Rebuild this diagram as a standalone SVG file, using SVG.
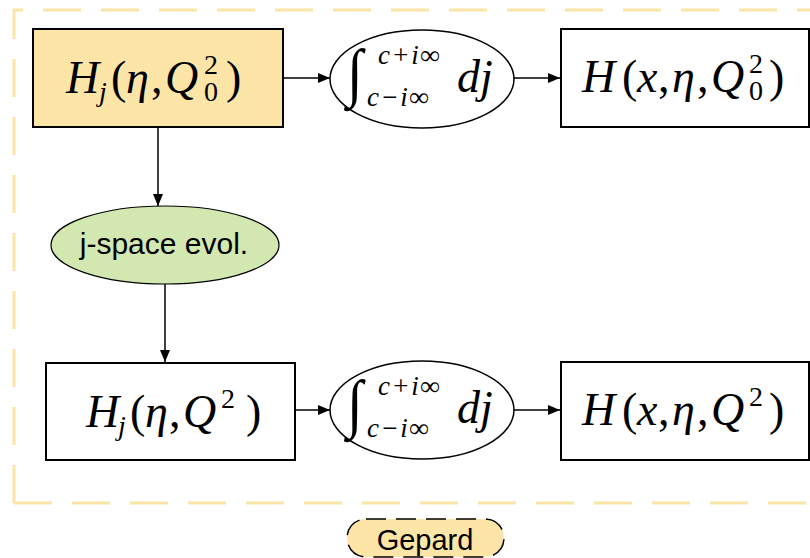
<svg xmlns="http://www.w3.org/2000/svg" width="810" height="558" viewBox="0 0 810 558">
<defs>
<marker id="arr" markerWidth="12" markerHeight="10" refX="12" refY="5" orient="auto" markerUnits="userSpaceOnUse">
<path d="M0,0 L12,5 L0,10 Z" fill="#000"/>
</marker>
<style>
.box{fill:#fff;stroke:#000;stroke-width:2}
.ybox{fill:#fce5a7;stroke:#000;stroke-width:2}
.ell{fill:#fff;stroke:#000;stroke-width:1.5}
.gell{fill:#d3e8b0;stroke:#000;stroke-width:1.2}
.m{font-family:"Liberation Serif","Times New Roman",serif;font-size:46px;fill:#000}
.i{font-style:italic}
.sc{font-size:28px}
.lim{font-family:"Liberation Serif","Times New Roman",serif;font-size:27px;font-style:italic;fill:#000;letter-spacing:1.5px}
.s{font-family:"Liberation Sans",Arial,sans-serif;fill:#000}
.con{stroke:#000;stroke-width:1.5;fill:none;marker-end:url(#arr)}
</style>
</defs>
<rect width="810" height="558" fill="#fff"/>
<path d="M14,503 L14,10 L830,10 M14,503 L830,503" fill="none" stroke="#fae4a6" stroke-width="3" stroke-dasharray="38,20"/>

<g id="connectors">
<line class="con" x1="284" y1="78" x2="330" y2="78"/>
<line class="con" x1="514" y1="78" x2="560" y2="78"/>
<line class="con" x1="158" y1="128" x2="158" y2="206"/>
<line class="con" x1="165" y1="284" x2="165" y2="362"/>
<line class="con" x1="296" y1="410" x2="330" y2="410"/>
<line class="con" x1="514" y1="410" x2="560" y2="410"/>
</g>

<g id="hj0">
<rect class="ybox" x="33" y="29" width="250" height="98"/>
<text class="m"><tspan class="i" x="66" y="93">H</tspan><tspan class="i sc" x="99" y="101">j</tspan><tspan x="111" y="93">(</tspan><tspan class="i" x="126" y="93">η</tspan><tspan x="151" y="93">,</tspan><tspan class="i" x="165" y="93">Q</tspan><tspan x="226" y="93">)</tspan></text>
<text class="m sc" x="204" y="74">2</text>
<text class="m sc" x="204" y="101">0</text>
</g>

<g id="int0">
<ellipse class="ell" cx="422" cy="79" rx="92" ry="49"/>
<text class="m i" font-size="58" transform="translate(347,94) scale(1.25,1.4)">∫</text>
<text class="lim" x="378" y="64">c+i∞</text>
<text class="lim" x="367" y="106">c−i∞</text>
<text class="m i" x="457" y="92" font-size="42">dj</text>
</g>

<g id="h0">
<rect class="box" x="561" y="29" width="248" height="98"/>
<text class="m"><tspan class="i" x="582" y="92">H</tspan><tspan x="622" y="92">(</tspan><tspan class="i" x="637" y="92">x</tspan><tspan x="658" y="92">,</tspan><tspan class="i" x="672" y="92">η</tspan><tspan x="697" y="92">,</tspan><tspan class="i" x="711" y="92">Q</tspan><tspan x="769" y="92">)</tspan></text>
<text class="m sc" x="749" y="73">2</text>
<text class="m sc" x="749" y="100">0</text>
</g>

<g id="evol">
<ellipse class="gell" cx="165" cy="245" rx="114" ry="39"/>
<text class="s" x="164" y="254" font-size="30" text-anchor="middle">j-space evol.</text>
</g>

<g id="hj">
<rect class="box" x="46" y="363" width="249" height="97"/>
<text class="m"><tspan class="i" x="86" y="427">H</tspan><tspan class="i sc" x="118" y="435">j</tspan><tspan x="130" y="427">(</tspan><tspan class="i" x="145" y="427">η</tspan><tspan x="169" y="427">,</tspan><tspan class="i" x="183" y="427">Q</tspan><tspan x="246" y="427">)</tspan></text>
<text class="m sc" x="221" y="408">2</text>
</g>

<g id="int1">
<ellipse class="ell" cx="422" cy="410" rx="92" ry="49"/>
<text class="m i" font-size="58" transform="translate(347,425) scale(1.25,1.4)">∫</text>
<text class="lim" x="378" y="395">c+i∞</text>
<text class="lim" x="367" y="437">c−i∞</text>
<text class="m i" x="457" y="423" font-size="42">dj</text>
</g>

<g id="h">
<rect class="box" x="561" y="362" width="248" height="98"/>
<text class="m"><tspan class="i" x="582" y="425">H</tspan><tspan x="622" y="425">(</tspan><tspan class="i" x="637" y="425">x</tspan><tspan x="658" y="425">,</tspan><tspan class="i" x="672" y="425">η</tspan><tspan x="697" y="425">,</tspan><tspan class="i" x="711" y="425">Q</tspan><tspan x="769" y="425">)</tspan></text>
<text class="m sc" x="749" y="406">2</text>
</g>

<g id="gepard">
<rect x="347" y="519" width="157" height="38" rx="19" fill="#fce5a7" stroke="#000" stroke-width="1.5" stroke-dasharray="20,10"/>
<text class="s" x="425" y="550" font-size="29" text-anchor="middle">Gepard</text>
</g>
</svg>
